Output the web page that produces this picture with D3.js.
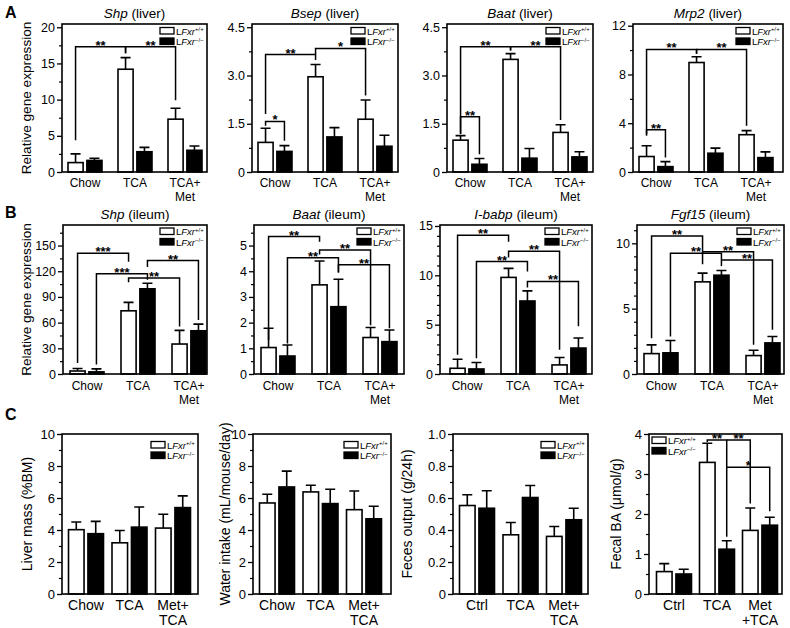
<!DOCTYPE html>
<html>
<head>
<meta charset="utf-8">
<script src="https://cdn.jsdelivr.net/npm/d3@7"></script>
<style>
body { margin: 0; background: #fff; }
text { font-family: "Liberation Sans", Arial, sans-serif; fill: #000; }
</style>
</head>
<body>
<script>
// groups (x categories); "|" splits a label onto two lines
var groupsAB = ["Chow", "TCA", "TCA+|Met"];
var groupsC12 = ["Chow", "TCA", "Met+|TCA"];
var groupsC3 = ["Ctrl", "TCA", "Met+|TCA"];
var groupsC4 = ["Ctrl", "TCA", "Met|+TCA"];
var genotypes = ["+/+", "\u2212/\u2212"];

// A: liver
var shpLiverWt = [1.3, 14.2, 7.3], shpLiverWtSem = [1.2, 1.6, 1.5];
var shpLiverKo = [1.6, 2.8, 3.0], shpLiverKoSem = [0.3, 0.6, 0.6];
var bsepWt = [0.92, 2.96, 1.64], bsepWtSem = [0.44, 0.38, 0.60];
var bsepKo = [0.64, 1.09, 0.80], bsepKoSem = [0.18, 0.29, 0.34];
var baatLiverWt = [0.99, 3.50, 1.23], baatLiverWtSem = [0.14, 0.18, 0.24];
var baatLiverKo = [0.24, 0.43, 0.47], baatLiverKoSem = [0.18, 0.30, 0.16];
var mrp2Wt = [1.27, 8.98, 3.06], mrp2WtSem = [0.88, 0.47, 0.33];
var mrp2Ko = [0.44, 1.54, 1.18], mrp2KoSem = [0.41, 0.42, 0.47];

// B: ileum
var shpIleumWt = [3.5, 73.8, 35], shpIleumWtSem = [3, 9.8, 16];
var shpIleumKo = [2.5, 99.5, 50.5], shpIleumKoSem = [3.5, 6.5, 7.8];
var baatIleumWt = [1.03, 3.47, 1.42], baatIleumWtSem = [0.75, 0.93, 0.39];
var baatIleumKo = [0.70, 2.62, 1.26], baatIleumKoSem = [0.43, 1.07, 0.45];
var ibabpWt = [0.58, 9.79, 0.92], ibabpWtSem = [0.92, 0.91, 0.75];
var ibabpKo = [0.51, 7.40, 2.63], ibabpKoSem = [0.65, 1.02, 1.02];
var fgf15Wt = [1.56, 7.05, 1.41], fgf15WtSem = [0.67, 0.67, 0.41];
var fgf15Ko = [1.62, 7.56, 2.38], fgf15KoSem = [0.94, 0.36, 0.49];

// C: physiology
var liverMassWt = [4.02, 3.2, 4.12], liverMassWtSem = [0.48, 0.77, 0.86];
var liverMassKo = [3.77, 4.18, 5.4], liverMassKoSem = [0.77, 1.26, 0.73];
var waterWt = [5.69, 6.38, 5.27], waterWtSem = [0.54, 0.42, 1.17];
var waterKo = [6.69, 5.65, 4.7], waterKoSem = [0.99, 0.9, 0.78];
var fecesWt = [0.553, 0.37, 0.36], fecesWtSem = [0.067, 0.077, 0.062];
var fecesKo = [0.536, 0.603, 0.464], fecesKoSem = [0.109, 0.075, 0.072];
var fecalBaWt = [0.56, 3.29, 1.59], fecalBaWtSem = [0.2, 0.48, 0.56];
var fecalBaKo = [0.5, 1.12, 1.72], fecalBaKoSem = [0.12, 0.21, 0.2];

// significance brackets: [groupA, seriesA, groupB, seriesB, level, legA end, legB end, label]
var shpLiverSig = [[0,0,1,0,17.3,4.4,16.4,"**"], [1,0,2,0,17.3,16.4,9.9,"**"]];
var bsepSig = [[0,0,1,0,3.65,1.8,3.48,"**"], [1,0,2,0,3.84,3.66,2.38,"*"], [0,0,0,1,1.57,1.44,0.97,"*"]];
var baatLiverSig = [[0,0,1,0,3.89,1.2,3.78,"**"], [1,0,2,0,3.89,3.78,1.62,"**"], [0,0,0,1,1.72,1.18,0.55,"**"]];
var mrp2Sig = [[0,0,1,0,10.05,3.1,9.7,"**"], [1,0,2,0,10.05,9.7,3.8,"**"], [0,0,0,1,3.47,2.97,1.18,"**"]];
var shpIleumSig = [[0,0,1,0,141,12.8,131,"***"], [0,1,1,1,117,11,110,"***"], [1,0,2,0,112,107,55.6,"**"], [1,1,2,1,132.5,125,63,"**"]];
var baatIleumSig = [[0,0,1,0,5.35,1.32,5.15,"**"], [0,1,1,1,4.53,1.19,3.95,"**"], [1,0,2,0,4.83,4.65,1.9,"**"], [1,1,2,1,4.25,3.95,1.78,"**"]];
var ibabpSig = [[0,0,1,0,14.05,1.94,13.4,"**"], [0,1,1,1,11.4,1.6,10.4,"**"], [1,0,2,0,12.45,11.8,2.45,"**"], [1,1,2,1,9.38,8.76,4.84,"**"]];
var fgf15Sig = [[0,0,1,0,10.56,2.74,8.4,"**"], [0,1,1,1,9.23,2.87,8.26,"**"], [1,0,2,0,9.36,9.36,2.23,"**"], [1,1,2,1,8.72,8.72,3.38,"**"]];
var fecalBaSig = [[1,0,1,1,3.85,3.8,1.43,"**"], [1,1,2,0,3.85,3.85,2.26,"**"], [1,1,2,1,3.17,3.17,2.07,"*"]];

var rows = {
    A: {top: 24, zero: 172, title: 18, lab: 187, lab2: 200.5, leg: 3.5, c0: 23, step: 50, pairW: 34, tickFont: 12.5, labFont: 12},
    B: {top: 225, zero: 374, title: 219, lab: 390, lab2: 403.5, leg: 3, c0: 24, step: 51, pairW: 34, tickFont: 12.5, labFont: 12},
    C: {top: 434, zero: 594, lab: 610, lab2: 625, leg: 7.5, c0: 24, step: 43.5, pairW: 35, tickFont: 13, labFont: 14}
};

var panels = [
    {row: "A", x0: 62, x1: 207, title: ["Shp", " (liver)"], top: 20.45, major: 5, minor: 2.5, groups: groupsAB,
     wt: shpLiverWt, wtSem: shpLiverWtSem, ko: shpLiverKo, koSem: shpLiverKoSem, sig: shpLiverSig, ylab: "Relative gene expression", ylabX: 31},
    {row: "A", x0: 252, x1: 398, title: ["Bsep", " (liver)"], top: 4.6, major: 1.5, minor: 0.75, dec: true, groups: groupsAB,
     wt: bsepWt, wtSem: bsepWtSem, ko: bsepKo, koSem: bsepKoSem, sig: bsepSig},
    {row: "A", x0: 447, x1: 593, title: ["Baat", " (liver)"], top: 4.6, major: 1.5, minor: 0.75, dec: true, groups: groupsAB,
     wt: baatLiverWt, wtSem: baatLiverWtSem, ko: baatLiverKo, koSem: baatLiverKoSem, sig: baatLiverSig},
    {row: "A", x0: 633, x1: 783, title: ["Mrp2", " (liver)"], top: 12.14, major: 4, minor: 2, groups: groupsAB,
     wt: mrp2Wt, wtSem: mrp2WtSem, ko: mrp2Ko, koSem: mrp2KoSem, sig: mrp2Sig},

    {row: "B", x0: 63, x1: 207, title: ["Shp", " (ileum)"], top: 174, major: 30, minor: 15, groups: groupsAB,
     wt: shpIleumWt, wtSem: shpIleumWtSem, ko: shpIleumKo, koSem: shpIleumKoSem, sig: shpIleumSig, ylab: "Relative gene expression", ylabX: 31},
    {row: "B", x0: 254, x1: 404, title: ["Baat", " (ileum)"], top: 5.8, major: 1, minor: 0.5, groups: groupsAB,
     wt: baatIleumWt, wtSem: baatIleumWtSem, ko: baatIleumKo, koSem: baatIleumKoSem, sig: baatIleumSig},
    {row: "B", x0: 440, x1: 592, title: ["I-babp", " (ileum)"], top: 15.1, major: 5, minor: 1, groups: groupsAB, c0: 27,
     wt: ibabpWt, wtSem: ibabpWtSem, ko: ibabpKo, koSem: ibabpKoSem, sig: ibabpSig},
    {row: "B", x0: 637, x1: 784, title: ["Fgf15", " (ileum)"], top: 11.4, major: 5, minor: 1, groups: groupsAB,
     wt: fgf15Wt, wtSem: fgf15WtSem, ko: fgf15Ko, koSem: fgf15KoSem, sig: fgf15Sig},

    {row: "C", x0: 62, x1: 198, top: 10, major: 2, minor: 1, groups: groupsC12,
     wt: liverMassWt, wtSem: liverMassWtSem, ko: liverMassKo, koSem: liverMassKoSem, sig: [], ylab: "Liver mass (%BM)", ylabX: 32},
    {row: "C", x0: 253, x1: 391, top: 10, major: 2, minor: 1, groups: groupsC12,
     wt: waterWt, wtSem: waterWtSem, ko: waterKo, koSem: waterKoSem, sig: [], ylab: "Water intake (mL/mouse/day)", ylabX: 230},
    {row: "C", x0: 453, x1: 588, top: 1.0, major: 0.2, minor: 0.1, dec: true, groups: groupsC3,
     wt: fecesWt, wtSem: fecesWtSem, ko: fecesKo, koSem: fecesKoSem, sig: [], ylab: "Feces output (g/24h)", ylabX: 412},
    {row: "C", x0: 649, x1: 782, top: 4, major: 1, minor: 0.5, groups: groupsC4, legLeft: true, c0: 25, step: 43,
     wt: fecalBaWt, wtSem: fecalBaWtSem, ko: fecalBaKo, koSem: fecalBaKoSem, sig: fecalBaSig, ylab: "Fecal BA (\u03bcmol/g)", ylabX: 621}
];

var svg = d3.select("body").append("svg")
    .attr("width", 790)
    .attr("height", 628);

function drawPanel(p) {
    var r = rows[p.row];
    var g = svg.append("g");

    var y = d3.scaleLinear().domain([0, p.top]).range([r.zero, r.top]);

    var c0 = p.c0 || r.c0, step = p.step || r.step;
    var pi = 1 - r.pairW / step;
    var x = d3.scaleBand().domain(d3.range(3))
        .range([p.x0 + c0 - step / 2, p.x0 + c0 + 2.5 * step])
        .paddingInner(pi).paddingOuter(pi / 2);
    var xs = d3.scaleBand().domain([0, 1]).range([0, x.bandwidth()]).paddingInner(0.2);
    var cx = function (gi, si) { return x(gi) + xs(si) + xs.bandwidth() / 2; };

    var bars = [];
    for (var i = 0; i < 3; i++) {
        bars.push({g: i, s: 0, v: p.wt[i], e: p.wtSem[i]});
        bars.push({g: i, s: 1, v: p.ko[i], e: p.koSem[i]});
    }

    // error bars (upper only)
    g.selectAll(".err").data(bars).enter().append("path")
        .attr("d", function (d) {
            var c = cx(d.g, d.s);
            return "M" + c + "," + y(d.v) + "V" + y(d.v + d.e) + "M" + (c - 5) + "," + y(d.v + d.e) + "H" + (c + 5);
        })
        .style("stroke", "#000").style("stroke-width", 1.6).style("fill", "none");

    g.selectAll(".bar").data(bars).enter().append("rect")
        .attr("x", function (d) { return x(d.g) + xs(d.s); })
        .attr("y", function (d) { return y(d.v); })
        .attr("width", xs.bandwidth())
        .attr("height", function (d) { return r.zero - y(d.v); })
        .style("fill", function (d) { return d.s ? "#000" : "#fff"; })
        .style("stroke", "#000").style("stroke-width", 1.6);

    // significance brackets
    p.sig.forEach(function (b) {
        var xa = cx(b[0], b[1]), xb = cx(b[2], b[3]);
        g.append("path")
            .attr("d", "M" + xa + "," + y(b[5]) + "V" + y(b[4]) + "H" + xb + "V" + y(b[6]))
            .style("stroke", "#000").style("stroke-width", 1.5).style("fill", "none");
        g.append("text")
            .attr("x", (xa + xb) / 2).attr("y", y(b[4]) + 3)
            .attr("text-anchor", "middle").style("font-size", "13px").style("font-weight", "bold")
            .text(b[7]);
    });

    // axes
    var nMaj = Math.floor(p.top / p.major + 1e-6);
    var majors = d3.range(nMaj + 1).map(function (k) { return +(k * p.major).toFixed(6); });
    var nMin = Math.floor(p.top / p.minor + 1e-6);
    var minors = d3.range(nMin + 1).map(function (k) { return +(k * p.minor).toFixed(6); })
        .filter(function (v) { return majors.every(function (m) { return Math.abs(m - v) > 1e-6; }); });

    var fmt = function (d) { return d === 0 ? "0" : (p.dec ? d.toFixed(1) : d3.format("d")(d)); };

    var yAxis = d3.axisLeft(y).tickValues(majors).tickFormat(fmt).tickSize(5).tickPadding(2);
    var ax = g.append("g").attr("transform", "translate(" + p.x0 + ",0)").call(yAxis);
    ax.select(".domain").remove();
    ax.selectAll("line").style("stroke-width", 1.3);
    ax.selectAll("text").style("font-size", r.tickFont + "px")
        .style("font-family", "'Liberation Sans', Arial, sans-serif");

    var minorAxis = d3.axisLeft(y).tickValues(minors).tickFormat("").tickSize(3);
    var mx = g.append("g").attr("transform", "translate(" + p.x0 + ",0)").call(minorAxis);
    mx.select(".domain").remove();
    mx.selectAll("line").style("stroke-width", 1.2);

    // frame
    g.append("rect")
        .attr("x", p.x0).attr("y", r.top)
        .attr("width", p.x1 - p.x0).attr("height", r.zero - r.top)
        .style("fill", "none").style("stroke", "#000").style("stroke-width", 1.6);

    // x labels
    p.groups.forEach(function (lab, gi) {
        var lines = lab.split("|");
        var c = x(gi) + x.bandwidth() / 2;
        lines.forEach(function (t, li) {
            g.append("text")
                .attr("x", c).attr("y", li ? r.lab2 : r.lab)
                .attr("text-anchor", "middle").style("font-size", r.labFont + "px")
                .text(t);
        });
    });

    // title
    if (p.title) {
        var tt = g.append("text")
            .attr("x", (p.x0 + p.x1) / 2).attr("y", r.title)
            .attr("text-anchor", "middle").style("font-size", "13.5px");
        tt.append("tspan").style("font-style", "italic").text(p.title[0]);
        tt.append("tspan").text(p.title[1]);
    }

    // y label
    if (p.ylab) {
        g.append("text")
            .attr("transform", "translate(" + p.ylabX + "," + ((r.top + r.zero) / 2) + ") rotate(-90)")
            .attr("text-anchor", "middle")
            .style("font-size", p.row === "C" ? "14px" : "13.6px")
            .text(p.ylab);
    }

    // legend
    var lx = p.legLeft ? p.x0 + 3 : p.x1 - 47;
    genotypes.forEach(function (gt, k) {
        var ly = r.top + (p.legLeft ? 3 : r.leg) + k * 10.5;
        g.append("rect")
            .attr("x", lx).attr("y", ly).attr("width", 14).attr("height", 6.5)
            .style("fill", k ? "#000" : "#fff").style("stroke", "#000").style("stroke-width", 1.3);
        var t = g.append("text")
            .attr("x", lx + 16).attr("y", ly + 7)
            .style("font-size", "9.5px");
        t.append("tspan").text("L");
        t.append("tspan").style("font-style", "italic").text("Fxr");
        t.append("tspan").attr("dy", -3.5).style("font-size", "6px").text(gt);
    });
}

panels.forEach(drawPanel);

// panel letters
[["A", 18], ["B", 218], ["C", 420]].forEach(function (l) {
    svg.append("text").attr("x", 5).attr("y", l[1])
        .style("font-size", "16px").style("font-weight", "bold").text(l[0]);
});
</script>
</body>
</html>
